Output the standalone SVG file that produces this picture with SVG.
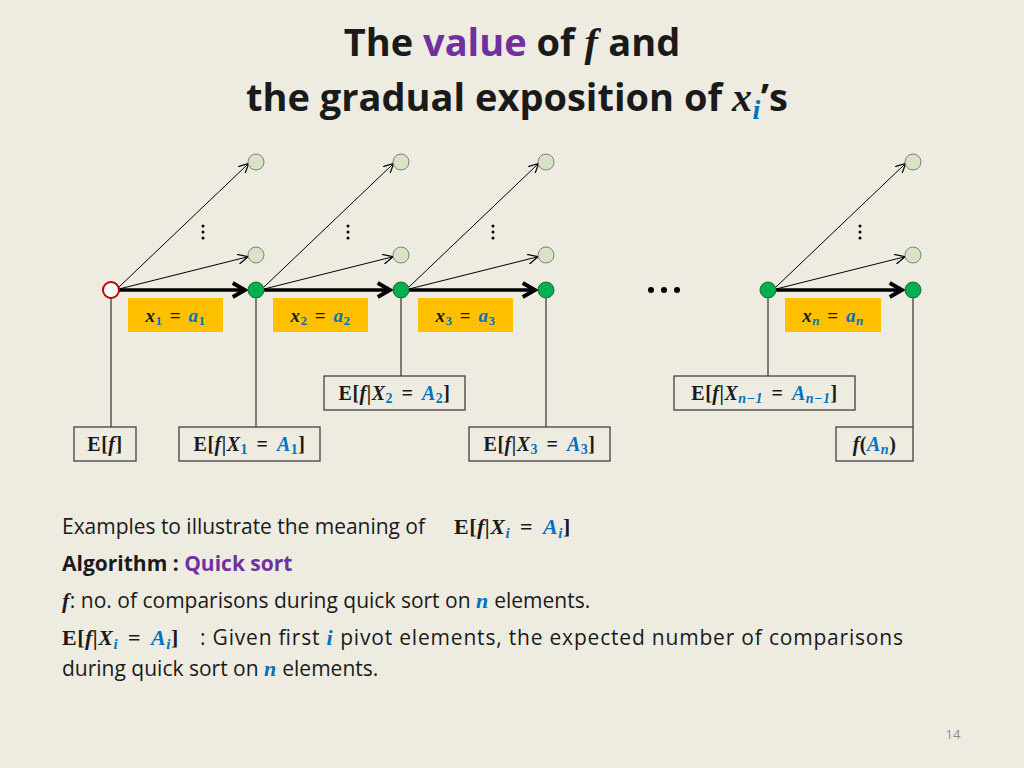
<svg xmlns="http://www.w3.org/2000/svg" width="1024" height="768" viewBox="0 0 1024 768">
<style>
.t{font-family:"Open Sans","Liberation Sans",sans-serif;fill:#1a1a1a}
.m{font-family:"Liberation Serif",serif;font-weight:bold;fill:#1a1a1a;letter-spacing:0.5px}
.i{font-style:italic}
.b{fill:#0070C0}
.p{fill:#7030A0}
.box{fill:none;stroke:#404040;stroke-width:1.3}
.yel{fill:#FFC000}
.g{fill:#00B050;stroke:#1f6b3a;stroke-width:1}
.lc{fill:#D8E2C4;stroke:#7f7f7f;stroke-width:1}
.th{stroke:#000;stroke-width:1;fill:none}
.thk{stroke:#000;stroke-width:3.5;fill:none}
.vl{stroke:#404040;stroke-width:1.3}
</style>
<defs>
<marker id="a" viewBox="0 0 10 10" refX="9" refY="5" markerWidth="10" markerHeight="10" markerUnits="userSpaceOnUse" orient="auto"><path d="M0,0 L10,5 L0,10" fill="none" stroke="#000" stroke-width="1.2"/></marker>
<marker id="A" viewBox="0 0 10 10" refX="8" refY="5" markerWidth="5" markerHeight="5" orient="auto"><path d="M1,1 L8,5 L1,9" fill="none" stroke="#000" stroke-width="2.2"/></marker>
</defs>
<rect width="1024" height="768" fill="#EEECE1"/>
<text x="512" y="56" text-anchor="middle" class="t" font-size="38" font-weight="bold">The <tspan class="p">value</tspan> of <tspan class="m i" font-size="40">f</tspan> and</text>
<text x="517" y="111" text-anchor="middle" class="t" font-size="38" font-weight="bold">the gradual exposition of <tspan class="m i" font-size="40">x</tspan><tspan class="m i b" font-size="28" dy="8">i</tspan><tspan dy="-8">’s</tspan></text>

<g id="connectors">
<g class="th" marker-end="url(#a)">
<line x1="119" y1="287" x2="248" y2="164"/><line x1="119" y1="289" x2="247" y2="257"/>
<line x1="264" y1="287" x2="393" y2="164"/><line x1="264" y1="289" x2="392" y2="257"/>
<line x1="409" y1="287" x2="538" y2="164"/><line x1="409" y1="289" x2="537" y2="257"/>
<line x1="776" y1="287" x2="905" y2="164"/><line x1="776" y1="289" x2="904" y2="257"/>
</g>
<g class="thk" marker-end="url(#A)">
<line x1="119" y1="290" x2="245" y2="290"/>
<line x1="264" y1="290" x2="390" y2="290"/>
<line x1="409" y1="290" x2="535" y2="290"/>
<line x1="776" y1="290" x2="902" y2="290"/>
</g>
<g class="vl">
<line x1="111" y1="298" x2="111" y2="427"/>
<line x1="256" y1="298" x2="256" y2="427"/>
<line x1="401" y1="298" x2="401" y2="376"/>
<line x1="546" y1="298" x2="546" y2="427"/>
<line x1="768" y1="298" x2="768" y2="376"/>
<line x1="913" y1="298" x2="913" y2="427"/>
</g>
</g>

<g id="nodes">
<circle id="n0" cx="111" cy="290" r="8" fill="#fff" stroke="#C00000" stroke-width="2"/>
<circle id="n1" cx="256" cy="290" r="8" class="g"/>
<circle id="n2" cx="401" cy="290" r="8" class="g"/>
<circle id="n3" cx="546" cy="290" r="8" class="g"/>
<circle id="n4" cx="768" cy="290" r="8" class="g"/>
<circle id="n5" cx="913" cy="290" r="8" class="g"/>
<g id="leaves">
<circle cx="256" cy="162" r="8" class="lc"/><circle cx="256" cy="255" r="8" class="lc"/>
<circle cx="401" cy="162" r="8" class="lc"/><circle cx="401" cy="255" r="8" class="lc"/>
<circle cx="546" cy="162" r="8" class="lc"/><circle cx="546" cy="255" r="8" class="lc"/>
<circle cx="913" cy="162" r="8" class="lc"/><circle cx="913" cy="255" r="8" class="lc"/>
</g>
<g id="vdots" fill="#000">
<circle cx="203" cy="226" r="1.5"/><circle cx="203" cy="232" r="1.5"/><circle cx="203" cy="238" r="1.5"/>
<circle cx="348" cy="226" r="1.5"/><circle cx="348" cy="232" r="1.5"/><circle cx="348" cy="238" r="1.5"/>
<circle cx="493" cy="226" r="1.5"/><circle cx="493" cy="232" r="1.5"/><circle cx="493" cy="238" r="1.5"/>
<circle cx="860" cy="226" r="1.5"/><circle cx="860" cy="232" r="1.5"/><circle cx="860" cy="238" r="1.5"/>
</g>
<g id="hdots" fill="#000"><circle cx="651" cy="290" r="3"/><circle cx="664" cy="290" r="3"/><circle cx="677" cy="290" r="3"/></g>

<g id="y1"><rect x="128" y="298" width="95" height="34" class="yel"/><text x="175.5" y="322" text-anchor="middle" class="m" font-size="19" word-spacing="2"><tspan class="i">x</tspan><tspan class="b" font-size="13" dy="3">1</tspan><tspan dy="-3"> = </tspan><tspan class="i b">a</tspan><tspan class="b" font-size="13" dy="3">1</tspan></text></g>
<g id="y2"><rect x="273" y="298" width="95" height="34" class="yel"/><text x="320.5" y="322" text-anchor="middle" class="m" font-size="19" word-spacing="2"><tspan class="i">x</tspan><tspan class="b" font-size="13" dy="3">2</tspan><tspan dy="-3"> = </tspan><tspan class="i b">a</tspan><tspan class="b" font-size="13" dy="3">2</tspan></text></g>
<g id="y3"><rect x="418" y="298" width="95" height="34" class="yel"/><text x="465.5" y="322" text-anchor="middle" class="m" font-size="19" word-spacing="2"><tspan class="i">x</tspan><tspan class="b" font-size="13" dy="3">3</tspan><tspan dy="-3"> = </tspan><tspan class="i b">a</tspan><tspan class="b" font-size="13" dy="3">3</tspan></text></g>
<g id="yn"><rect x="785" y="298" width="96" height="34" class="yel"/><text x="833" y="322" text-anchor="middle" class="m" font-size="19" word-spacing="2"><tspan class="i">x</tspan><tspan class="b i" font-size="13" dy="3">n</tspan><tspan dy="-3"> = </tspan><tspan class="i b">a</tspan><tspan class="b i" font-size="13" dy="3">n</tspan></text></g>

<g id="b0"><rect x="74" y="427" width="62" height="34" class="box"/><text x="105" y="451" text-anchor="middle" class="m" font-size="20">E[<tspan class="i">f</tspan>]</text></g>
<g id="b1"><rect x="179" y="427" width="141" height="34" class="box"/><text x="249.5" y="451" text-anchor="middle" class="m" font-size="20" word-spacing="3">E[<tspan class="i">f</tspan>|<tspan class="i">X</tspan><tspan class="b" font-size="14" dy="3">1</tspan><tspan dy="-3"> = </tspan><tspan class="i b">A</tspan><tspan class="b" font-size="14" dy="3">1</tspan><tspan dy="-3">]</tspan></text></g>
<g id="b2"><rect x="324" y="376" width="141" height="34" class="box"/><text x="394.5" y="400" text-anchor="middle" class="m" font-size="20" word-spacing="3">E[<tspan class="i">f</tspan>|<tspan class="i">X</tspan><tspan class="b" font-size="14" dy="3">2</tspan><tspan dy="-3"> = </tspan><tspan class="i b">A</tspan><tspan class="b" font-size="14" dy="3">2</tspan><tspan dy="-3">]</tspan></text></g>
<g id="b3"><rect x="469" y="427" width="141" height="34" class="box"/><text x="539.5" y="451" text-anchor="middle" class="m" font-size="20" word-spacing="3">E[<tspan class="i">f</tspan>|<tspan class="i">X</tspan><tspan class="b" font-size="14" dy="3">3</tspan><tspan dy="-3"> = </tspan><tspan class="i b">A</tspan><tspan class="b" font-size="14" dy="3">3</tspan><tspan dy="-3">]</tspan></text></g>
<g id="bn1"><rect x="674" y="376" width="181" height="34" class="box"/><text x="764.5" y="400" text-anchor="middle" class="m" font-size="20" word-spacing="3">E[<tspan class="i">f</tspan>|<tspan class="i">X</tspan><tspan class="b i" font-size="14" dy="3">n−1</tspan><tspan dy="-3"> = </tspan><tspan class="i b">A</tspan><tspan class="b i" font-size="14" dy="3">n−1</tspan><tspan dy="-3">]</tspan></text></g>
<g id="bn"><rect x="836" y="427" width="77" height="34" class="box"/><text x="874.5" y="451" text-anchor="middle" class="m" font-size="20"><tspan class="i">f</tspan>(<tspan class="i b">A</tspan><tspan class="b i" font-size="14" dy="3">n</tspan><tspan dy="-3">)</tspan></text></g>
</g>

<g id="notes" font-size="21">
<text x="62" y="534" class="t" textLength="363">Examples to illustrate the meaning of</text>
<text x="454" y="534" class="m" font-size="22" word-spacing="4">E[<tspan class="i">f</tspan>|<tspan class="i">X</tspan><tspan class="i b" font-size="15" dy="4">i</tspan><tspan dy="-4"> = </tspan><tspan class="i b">A</tspan><tspan class="i b" font-size="15" dy="4">i</tspan><tspan dy="-4">]</tspan></text>
<text x="62" y="571" class="t" font-weight="bold">Algorithm : <tspan class="p">Quick sort</tspan></text>
<text x="62" y="608" class="t"><tspan class="m i" font-size="22">f</tspan>: no. of comparisons during quick sort on <tspan class="m i b" font-size="22">n</tspan> elements.</text>
<text x="62" y="645" class="m" font-size="22" word-spacing="4">E[<tspan class="i">f</tspan>|<tspan class="i">X</tspan><tspan class="i b" font-size="15" dy="4">i</tspan><tspan dy="-4"> = </tspan><tspan class="i b">A</tspan><tspan class="i b" font-size="15" dy="4">i</tspan><tspan dy="-4">]</tspan></text>
<text x="200" y="645" class="t" textLength="703">: Given first <tspan class="m i b" font-size="22">i</tspan> pivot elements, the expected number of comparisons</text>
<text x="62" y="676" class="t">during quick sort on <tspan class="m i b" font-size="22">n</tspan> elements.</text>
</g>
<text x="953" y="739" text-anchor="middle" font-family="Open Sans,Liberation Sans,sans-serif" font-size="13" fill="#8c8c8c">14</text>
</svg>
